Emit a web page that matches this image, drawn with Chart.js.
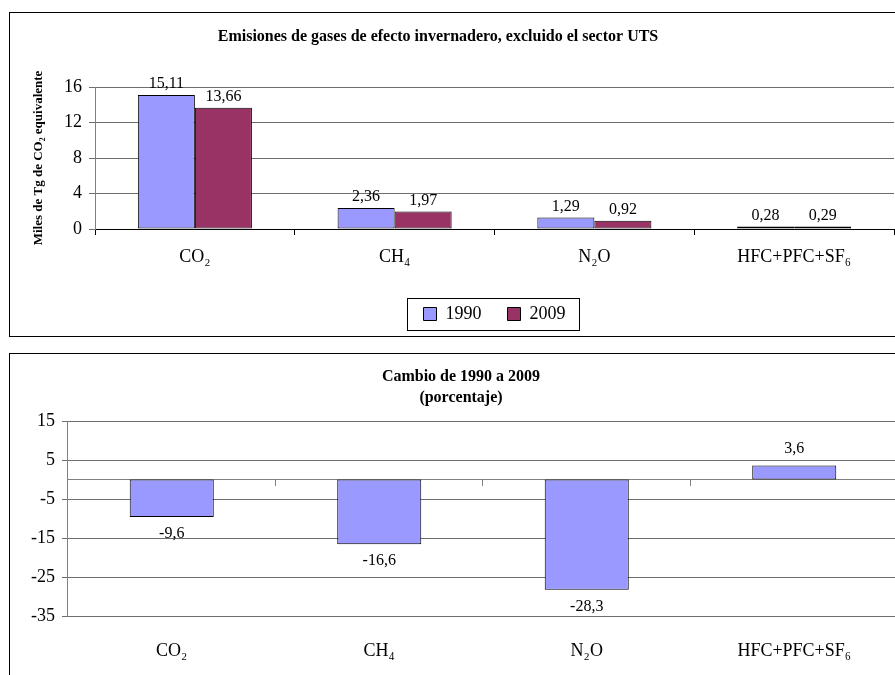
<!DOCTYPE html>
<html>
<head>
<meta charset="utf-8">
<script src="https://cdn.jsdelivr.net/npm/chart.js@4.4.1/dist/chart.umd.min.js"></script>
<style>
  html, body { margin: 0; padding: 0; background: #fff; overflow: hidden; width: 895px; height: 675px; }
  .caja { position: absolute; border: 1px solid #000; box-sizing: border-box; }
  canvas { position: absolute; }
</style>
</head>
<body>
<div class="caja" style="left:9px; top:12px; width:900px; height:325px;"></div>
<div class="caja" style="left:9px; top:353px; width:900px; height:340px;"></div>
<canvas id="emisiones" width="913" height="323" style="left:-18px; top:13px;"></canvas>
<canvas id="cambio" width="890" height="345" style="left:10px; top:354px;"></canvas>
<script>
// Datos
const gases = ['CO₂', 'CH₄', 'N₂O', 'HFC+PFC+SF₆'];
const anios = ['1990', '2009'];
const emis1990 = [15.11, 2.36, 1.29, 0.28];   // miles de Tg CO2 eq.
const emis2009 = [13.66, 1.97, 0.92, 0.29];
const cambio = [-9.6, -16.6, -28.3, 3.6];     // % 1990 -> 2009

Chart.defaults.font.family = "'Liberation Serif', 'Times New Roman', serif";
Chart.defaults.color = '#000';

// etiquetas con el valor encima / debajo de cada barra
const valueLabels = {
  id: 'valueLabels',
  afterDatasetsDraw(chart, args, opts) {
    const ctx = chart.ctx;
    ctx.save();
    ctx.font = "16px 'Liberation Serif', 'Times New Roman', serif";
    ctx.fillStyle = '#000';
    ctx.textAlign = 'center';
    ctx.textBaseline = 'middle';
    chart.data.datasets.forEach((ds, i) => {
      chart.getDatasetMeta(i).data.forEach((bar, j) => {
        const v = ds.data[j];
        const y = v >= 0 ? bar.y - opts.offset : bar.y + opts.offset;
        ctx.fillText(v.toFixed(opts.decimals).replace('.', ','), bar.x, y);
      });
    });
    ctx.restore();
  }
};

// marco alrededor de la leyenda
const legendFrame = {
  id: 'legendFrame',
  afterDraw(chart) {
    const boxes = chart.legend && chart.legend.legendHitBoxes;
    if (!boxes || !boxes.length) return;
    let l = Infinity, r = -Infinity, t = Infinity, b = -Infinity;
    boxes.forEach((h) => {
      l = Math.min(l, h.left); r = Math.max(r, h.left + h.width);
      t = Math.min(t, h.top); b = Math.max(b, h.top + h.height);
    });
    const ctx = chart.ctx;
    ctx.save();
    ctx.strokeStyle = '#000';
    ctx.lineWidth = 1;
    ctx.strokeRect(Math.round(l - 17) + 0.5, Math.round(t - 7) + 0.5, Math.round(r - l + 30), Math.round(b - t + 14));
    ctx.restore();
  }
};

new Chart(document.getElementById('emisiones'), {
  type: 'bar',
  data: {
    labels: gases,
    datasets: [
      { label: anios[0], data: emis1990, backgroundColor: '#9999FF', borderColor: '#000', borderWidth: 1, borderSkipped: false },
      { label: anios[1], data: emis2009, backgroundColor: '#993366', borderColor: '#000', borderWidth: 1, borderSkipped: false }
    ]
  },
  options: {
    responsive: false,
    animation: false,
    layout: { padding: { left: 0, right: 1, top: 0, bottom: 3 } },
    datasets: { bar: { barPercentage: 1, categoryPercentage: 0.571 } },
    scales: {
      x: {
        grid: { drawOnChartArea: false, drawTicks: true, tickLength: 6, color: '#000' },
        border: { color: '#000' },
        ticks: { font: { size: 18, lineHeight: 1.9 }, padding: 4.9 }
      },
      y: {
        min: 0,
        max: 16,
        ticks: { stepSize: 4, font: { size: 18 }, padding: 7 },
        grid: { color: '#6e6e6e', tickLength: 6 },
        border: { color: '#808080' },
        title: {
          display: true,
          text: 'Miles de Tg de CO₂ equivalente',
          font: { size: 13, weight: 'bold' },
          padding: { top: 49.2, bottom: 10.2 }
        }
      }
    },
    plugins: {
      title: {
        display: true,
        text: 'Emisiones de gases de efecto invernadero, excluido el sector UTS',
        font: { size: 16, weight: 'bold' },
        padding: { top: 14.4, bottom: 40.4 }
      },
      legend: {
        position: 'bottom',
        fullSize: false,
        labels: { boxWidth: 13, boxHeight: 13, padding: 26, font: { size: 18 } }
      },
      tooltip: { enabled: false },
      valueLabels: { decimals: 2, offset: 11 }
    }
  },
  plugins: [valueLabels, legendFrame]
});

new Chart(document.getElementById('cambio'), {
  type: 'bar',
  data: {
    labels: gases,
    datasets: [
      { label: 'Cambio', data: cambio, backgroundColor: '#9999FF', borderColor: '#000', borderWidth: 1, borderSkipped: false }
    ]
  },
  options: {
    responsive: false,
    animation: false,
    layout: { padding: { left: 14, right: 2, top: 0, bottom: 13 } },
    datasets: { bar: { barPercentage: 1, categoryPercentage: 0.405 } },
    scales: {
      x: {
        grid: { display: false, drawTicks: false },
        border: { display: false },
        ticks: { font: { size: 18 }, padding: 24.2 }
      },
      // eje en el valor 0, con sus marcas
      cero: {
        type: 'category',
        axis: 'x',
        position: { y: 0 },
        offset: true,
        grid: { offset: true, drawOnChartArea: false, tickLength: 6, color: '#808080' },
        border: { color: '#808080' },
        ticks: { display: false }
      },
      y: {
        min: -35,
        max: 15,
        ticks: { stepSize: 10, font: { size: 18 }, padding: 7 },
        grid: { color: '#6e6e6e', tickLength: 6 },
        border: { color: '#808080' }
      }
    },
    plugins: {
      title: {
        display: true,
        text: ['Cambio de 1990 a 2009', '(porcentaje)'],
        font: { size: 16, weight: 'bold', lineHeight: 1.3125 },
        padding: { top: 12.5, bottom: 12.5 }
      },
      legend: { display: false },
      tooltip: { enabled: false },
      valueLabels: { decimals: 1, offset: 17 }
    }
  },
  plugins: [valueLabels]
});
</script>
</body>
</html>
